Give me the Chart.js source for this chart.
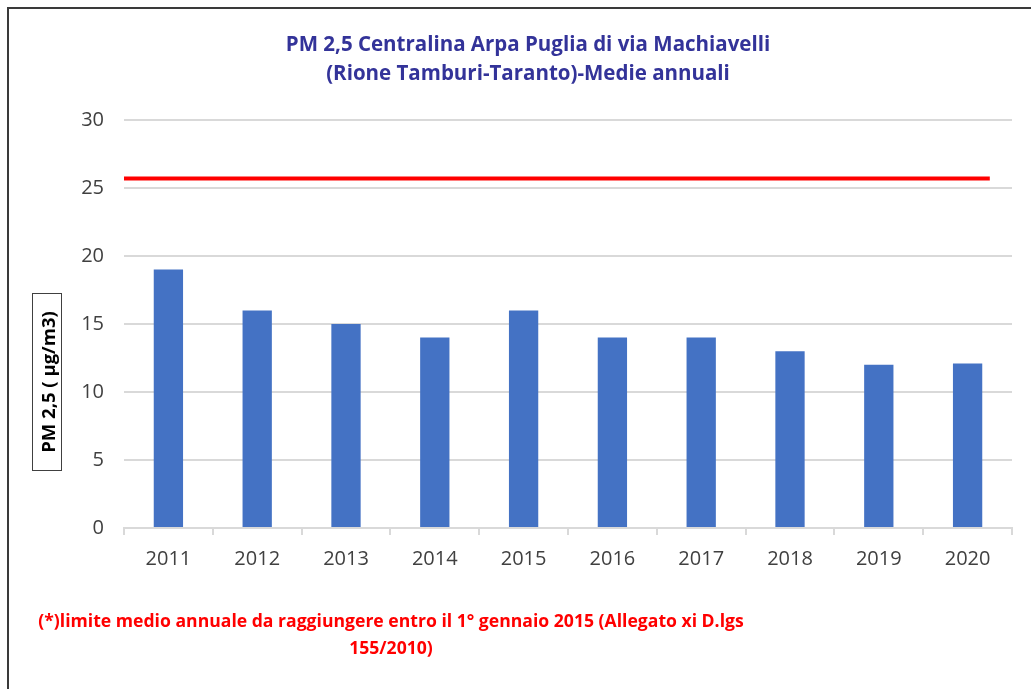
<!DOCTYPE html>
<html>
<head>
<meta charset="utf-8">
<script src="https://cdn.jsdelivr.net/npm/chart.js@4/dist/chart.umd.min.js"></script>
<style>
  html, body { margin: 0; padding: 0; background: #fff; }
  body { width: 1031px; height: 689px; position: relative; overflow: hidden; }
  .frame { position: absolute; left: 7px; top: 7px; width: 1100px; height: 800px;
    border-left: 2px solid #3a3a3a; border-top: 2px solid #3a3a3a; }
  #wrap { position: absolute; left: 0; top: 0; width: 1031px; height: 689px; }
  .title { position: absolute; left: 0; width: 1056px; top: 29px; text-align: center;
    font: bold 20.5px "Open Sans", sans-serif; color: #333399; line-height: 29px; }
  .ylabel { position: absolute; left: 32px; top: 293px; width: 28px; height: 176px;
    border: 1px solid #404040; }
  .ylabel span { position: absolute; left: 50%; top: 50%; white-space: nowrap;
    transform: translate(-50%, -50%) rotate(-90deg);
    font: bold 18.5px "Open Sans", sans-serif; color: #000; }
  .note { position: absolute; left: 0; width: 782px; top: 607px; text-align: center;
    font: bold 17.6px "Open Sans", sans-serif; color: #ff0000; line-height: 27px; }
</style>
</head>
<body>
<div class="frame"></div>
<div id="wrap"><canvas id="c" width="1031" height="689"></canvas></div>
<div class="title">PM 2,5 Centralina Arpa Puglia di via Machiavelli<br>(Rione Tamburi-Taranto)-Medie annuali</div>
<div class="ylabel"><span>PM 2,5 ( µg/m3)</span></div>
<div class="note">(*)limite medio annuale da raggiungere entro il 1° gennaio 2015 (Allegato xi D.lgs<br>155/2010)</div>
<script>
const years = ["2011", "2012", "2013", "2014", "2015", "2016", "2017", "2018", "2019", "2020"];
const pm25 = [19, 16, 15, 14, 16, 14, 14, 13, 12, 12.1];
const limitValue = 25.7;
const limitSpan = [0, 9.75]; // start/end along the category axis (in categories)
const yTicks = [0, 5, 10, 15, 20, 25, 30];

const canvas = document.getElementById("c");

//red limit line, placed through the chart scales
const limitLine = {
  id: "limitLine",
  afterDatasetsDraw(chart) {
    const { ctx, scales } = chart;
    const y = scales.y.getPixelForValue(limitValue);
    ctx.save();
    ctx.strokeStyle = "#FF0000";
    ctx.lineWidth = 4;
    ctx.beginPath();
    ctx.moveTo(scales.xl.getPixelForValue(limitSpan[0]), y);
    ctx.lineTo(scales.xl.getPixelForValue(limitSpan[1]), y);
    ctx.stroke();
    ctx.restore();
  },
};

new Chart(canvas, {
  type: "bar",
  data: {
    labels: years,
    datasets: [
      {
        label: "PM 2,5",
        data: pm25,
        backgroundColor: "#4472C4",
        categoryPercentage: 1,
        barPercentage: 0.33,
      },
    ],
  },
  plugins: [limitLine],
  options: {
    responsive: false,
    animation: false,
    layout: { padding: { left: 0, top: 120, right: 19, bottom: 111 } },
    plugins: {
      legend: { display: false },
      tooltip: { enabled: false },
    },
    scales: {
      x: {
        grid: { drawOnChartArea: false, drawTicks: true, tickLength: 7, color: "#d9d9d9", lineWidth: 2, offset: true },
        border: { color: "#d9d9d9", width: 2 },
        ticks: { color: "#404040", font: { family: "Open Sans", size: 20 }, padding: 12 },
        afterFit: (s) => { s.height = 50; },
      },
      xl: {
        type: "linear",
        display: false,
        offset: false,
        min: 0,
        max: years.length,
      },
      y: {
        min: 0,
        max: 30,
        afterBuildTicks: (s) => { s.ticks = yTicks.map((v) => ({ value: v })); },
        grid: { color: "#d9d9d9", lineWidth: 2, drawTicks: false },
        border: { display: false },
        ticks: { color: "#404040", font: { family: "Open Sans", size: 20 }, padding: 20 },
        afterFit: (s) => { s.width = 124; },
      },
    },
  },
});
</script>
</body>
</html>
